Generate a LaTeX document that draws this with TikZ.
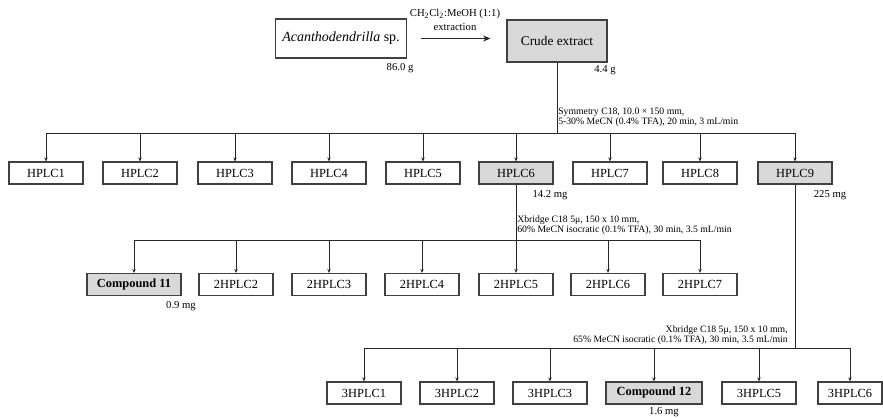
\documentclass[tikz,border=0pt]{standalone}
\usepackage{fontspec}
\setmainfont{Liberation Serif}
\usetikzlibrary{arrows.meta}

\begin{document}
\begin{tikzpicture}[x=0.75pt,y=0.75pt,yscale=-1,xscale=1,
  box/.style={draw=black!75, line width=0.9pt, minimum width=55.5pt, minimum height=16.5pt, inner sep=0pt, font=\fontsize{9.3}{11}\selectfont},
  hit/.style={box, fill=black!15},
  cpd/.style={box, fill=black!15, font=\fontsize{9.3}{11}\selectfont\bfseries},
  conn/.style={draw=black!85, line width=0.6pt},
  arr/.style={conn, -{Stealth[length=3pt,width=2.6pt]}},
  mass/.style={inner sep=0pt, font=\fontsize{8}{9}\selectfont},
  cond/.style={inner sep=0pt, font=\fontsize{7.3}{7.5}\selectfont}]
\useasboundingbox (0,0) rectangle (883,418);

%Shape: Rectangle [source]
\node [box, minimum width=98.25pt, minimum height=29.25pt, font=\fontsize{10.5}{12}\selectfont] (src) at (341,38.5) {\textit{Acanthodendrilla} sp.};
%Shape: Rectangle [crude]
\node [box, fill=black!15, minimum width=75pt, minimum height=31.5pt, font=\fontsize{10}{12}\selectfont] (crude) at (557,41) {Crude extract};
%Straight Lines [extraction]
\draw [conn, -{Stealth[length=5.5pt,width=4.5pt]}, shorten <=10.5pt, shorten >=12pt] (src.east) -- (src.east -| crude.west);
% Text Node
\node [align=center, inner sep=0pt, font=\fontsize{8}{10.5}\selectfont] (solv) at (455,20) {CH\textsubscript{2}Cl\textsubscript{2}:MeOH (1:1)\\extraction};
% Text Node
\node [mass] (m0) at (400,68) {86.0 g};
% Text Node
\node [mass] (m1) at (605,70) {4.4 g};

%first HPLC
\coordinate (b1) at (557,133);
\node [box] (h1) at (46,173) {HPLC1};
\node [box] (h2) at (140,173) {HPLC2};
\node [box] (h3) at (235,173) {HPLC3};
\node [box] (h4) at (329,173) {HPLC4};
\node [box] (h5) at (423,173) {HPLC5};
\node [hit] (h6) at (516,173) {HPLC6};
\node [box] (h7) at (610,173) {HPLC7};
\node [box] (h8) at (700,173) {HPLC8};
\node [hit] (h9) at (795,173) {HPLC9};
\draw [conn] (crude) -- (b1);
\draw [conn] (h1 |- b1) -- (h9 |- b1);
\foreach \n in {h1,h2,h3,h4,h5,h6,h7,h8,h9}
  \draw [arr] (\n |- b1) -- (\n);
% Text Node
\node [cond, anchor=west, align=left] (sym) at (558,117) {Symmetry C18, 10.0 × 150 mm,\\5-30\% MeCN (0.4\% TFA), 20 min, 3 mL/min};
% Text Node
\node [mass] (m6) at (550,195) {14.2 mg};
% Text Node
\node [mass] (m9) at (830,195) {225 mg};

%second HPLC
\coordinate (b2) at (516,240);
\node [cpd, minimum width=70.5pt] (c11) at (134,284.5) {Compound 11};
\node [box] (g2) at (236,284.5) {2HPLC2};
\node [box] (g3) at (329,284.5) {2HPLC3};
\node [box] (g4) at (422,284.5) {2HPLC4};
\node [box] (g5) at (516,284.5) {2HPLC5};
\node [box] (g6) at (608,284.5) {2HPLC6};
\node [box] (g7) at (700,284.5) {2HPLC7};
\draw [conn] (h6) -- (b2);
\draw [conn] (c11 |- b2) -- (g7 |- b2);
\foreach \n in {c11,g2,g3,g4,g5,g6,g7}
  \draw [arr] (\n |- b2) -- (\n);
% Text Node
\node [cond, anchor=west, align=left] (xb1) at (517,225) {Xbridge C18 5μ, 150 x 10 mm,\\60\% MeCN isocratic (0.1\% TFA), 30 min, 3.5 mL/min};
% Text Node
\node [mass] (m11) at (181,306) {0.9 mg};

%third HPLC
\coordinate (b3) at (795,348);
\node [box] (k1) at (364,393) {3HPLC1};
\node [box] (k2) at (457,393) {3HPLC2};
\node [box] (k3) at (550,393) {3HPLC3};
\node [cpd, minimum width=72pt] (c12) at (654,393) {Compound 12};
\node [box] (k5) at (759,393) {3HPLC5};
\node [box, minimum width=48pt] (k6) at (850,393) {3HPLC6};
\draw [conn] (h9) -- (b3);
\draw [conn] (k1 |- b3) -- (k6 |- b3);
\foreach \n in {k1,k2,k3,c12,k5,k6}
  \draw [arr] (\n |- b3) -- (\n);
% Text Node
\node [cond, anchor=east, align=right] (xb2) at (788,335) {Xbridge C18 5μ, 150 x 10 mm,\\65\% MeCN isocratic (0.1\% TFA), 30 min, 3.5 mL/min};
% Text Node
\node [mass] (m12) at (664,412) {1.6 mg};

\end{tikzpicture}
\end{document}
